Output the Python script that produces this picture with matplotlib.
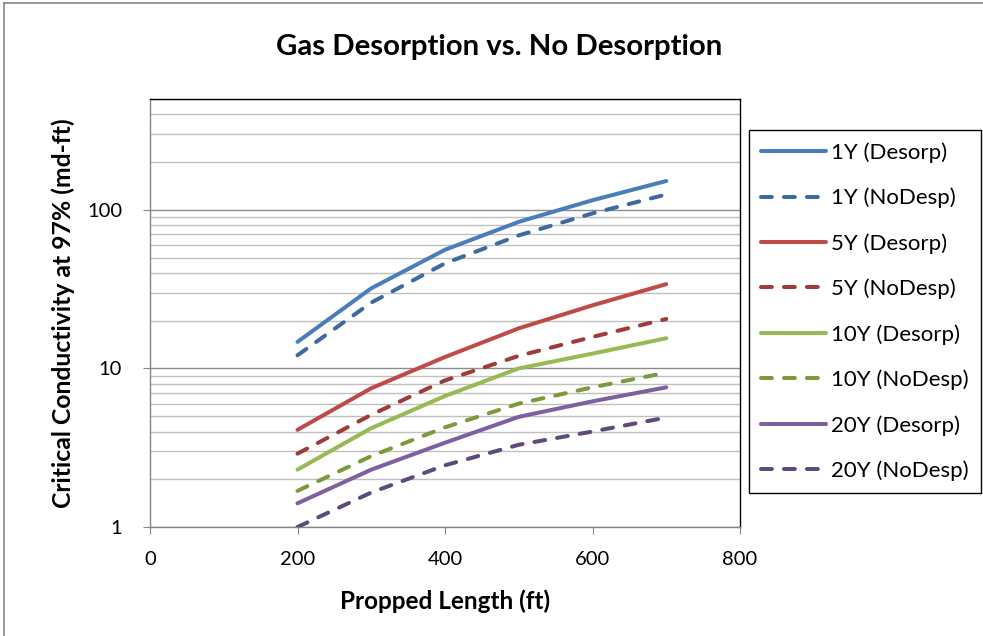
import numpy as np
import matplotlib
matplotlib.use("Agg")
import matplotlib.pyplot as plt
from matplotlib.ticker import FixedLocator, NullFormatter, LogLocator
from matplotlib.lines import Line2D

plt.rcParams['font.family'] = ['Lato', 'DejaVu Sans']

# propped length (ft) and critical conductivity (md-ft)
length = [200, 300, 400, 500, 600, 700]
y1_desorp = [14.7, 32, 56, 84, 115, 152]
y1_nodesp = [12.1, 26, 46, 69, 95, 125]
y5_desorp = [4.1, 7.5, 11.8, 17.9, 25, 34]
y5_nodesp = [2.9, 5.1, 8.4, 12.0, 15.8, 20.5]
y10_desorp = [2.3, 4.2, 6.7, 10.0, 12.4, 15.5]
y10_nodesp = [1.69, 2.8, 4.25, 6.0, 7.6, 9.4]
y20_desorp = [1.41, 2.3, 3.4, 4.95, 6.2, 7.6]
y20_nodesp = [1.0, 1.65, 2.45, 3.3, 4.0, 4.9]

labels = ["1Y (Desorp)", "1Y (NoDesp)", "5Y (Desorp)", "5Y (NoDesp)",
          "10Y (Desorp)", "10Y (NoDesp)", "20Y (Desorp)", "20Y (NoDesp)"]
series = [y1_desorp, y1_nodesp, y5_desorp, y5_nodesp,
          y10_desorp, y10_nodesp, y20_desorp, y20_nodesp]
colors = ['#4a7ebb', '#3d6a9f', '#be4b48', '#9d3c3a',
          '#98b954', '#7c9a3c', '#7d60a0', '#5f4a7d']

fig = plt.figure(figsize=(9.83, 6.36), dpi=100)
ax = fig.add_axes([150/983, 109/636, 590/983, 428/636])

lw = 2.9
for i, (lab, vals, c) in enumerate(zip(labels, series, colors)):
    if i % 2 == 0:
        ax.plot(length, vals, color=c, lw=lw, solid_capstyle='round',
                solid_joinstyle='round', label=lab, zorder=3)
    else:
        ax.plot(length, vals, color=c, lw=lw, dashes=(2.7, 3.0),
                dash_capstyle='round', dash_joinstyle='round', label=lab, zorder=3)

ax.set_yscale('log')
ax.set_xlim(0, 800)
ax.set_ylim(1, 500)
ax.set_xticks([0, 200, 400, 600, 800])
ax.yaxis.set_major_locator(FixedLocator([1, 10, 100]))
ax.set_yticklabels(['1', '10', '100'])
ax.yaxis.set_minor_locator(LogLocator(base=10, subs=np.arange(2, 10)))
ax.yaxis.set_minor_formatter(NullFormatter())

ax.grid(True, which='major', axis='y', color='#8c8c8c', lw=1.0, zorder=0)
ax.grid(True, which='minor', axis='y', color='#c0c0c0', lw=1.0, zorder=0)
ax.set_axisbelow(True)

for side in ['top', 'right']:
    ax.spines[side].set_color('black')
    ax.spines[side].set_linewidth(1.0)
for side in ['left', 'bottom']:
    ax.spines[side].set_color('#868686')
    ax.spines[side].set_linewidth(1.0)

ax.tick_params(axis='both', which='major', direction='out', length=5,
               color='#868686', labelsize=14.5)
ax.tick_params(axis='x', which='major', pad=12)
ax.tick_params(axis='y', which='major', pad=15)
ax.tick_params(axis='y', which='minor', length=0)

ax.set_xlabel("Propped Length (ft)", fontsize=17.5, fontweight='bold', labelpad=16)
ax.set_ylabel("Critical Conductivity at 97% (md-ft)", fontsize=17.8,
              fontweight='bold', labelpad=9)
fig.suptitle("Gas Desorption vs. No Desorption", x=0.508, y=0.926,
             fontsize=21.2, fontweight='bold', va='center')

leg = ax.legend(loc='upper left', bbox_to_anchor=(749/983, 1 - 130/636),
                bbox_transform=fig.transFigure, fontsize=16, frameon=True,
                fancybox=False, edgecolor='black', framealpha=1,
                handlelength=2.9, handletextpad=0.25, labelspacing=1.12,
                borderpad=0.55, borderaxespad=0)
leg.get_frame().set_linewidth(1.0)

# outer chart border (left and top edges)
fig.add_artist(Line2D([4/983, 4/983], [0, 1 - 3/636], color='#888888', lw=1.2,
                      transform=fig.transFigure))
fig.add_artist(Line2D([4/983, 1], [1 - 3/636, 1 - 3/636], color='#888888', lw=1.2,
                      transform=fig.transFigure))

fig.savefig("out.png", dpi=100)
